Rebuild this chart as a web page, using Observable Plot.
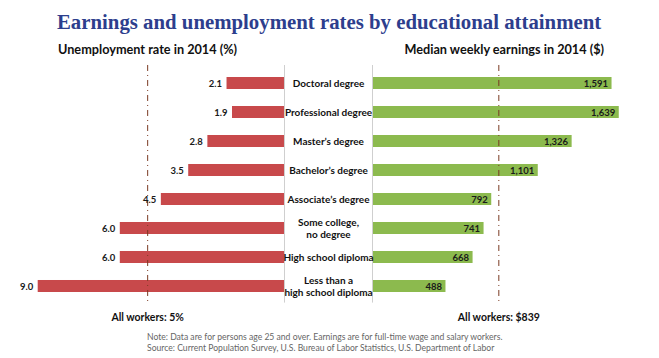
<!DOCTYPE html>
<html><head><meta charset="utf-8">
<script src="https://cdn.jsdelivr.net/npm/d3@7"></script>
<script src="https://cdn.jsdelivr.net/npm/@observablehq/plot@0.6"></script>
<style>
html,body{margin:0;padding:0;background:#fff;}
#wrap{position:relative;width:659px;height:358px;overflow:hidden;background:#fff;}
.t{position:absolute;white-space:nowrap;}
#title{left:57px;top:12.2px;font:bold 20.8px/20.8px "Liberation Serif",serif;color:#2d3e8d;}
.sub{font:bold 12.7px/12.7px Lato,sans-serif;color:#111;top:43px;}
#note{left:147px;top:332.2px;font:8.6px/10.7px Lato,sans-serif;color:#666;}
svg.p{position:absolute;top:60px;}
</style></head><body>
<div id="wrap">
<div class="t" id="title">Earnings and unemployment rates by educational attainment</div>
<div class="t sub" style="left:58px">Unemployment rate in 2014 (%)</div>
<div class="t sub" style="right:55px">Median weekly earnings in 2014 ($)</div>
<div class="t" id="note">Note: Data are for persons age 25 and over. Earnings are for full-time wage and salary workers.<br>Source: Current Population Survey, U.S. Bureau of Labor Statistics, U.S. Department of Labor</div>
</div>
<script>
const categories = ["Doctoral degree","Professional degree","Master’s degree","Bachelor’s degree","Associate’s degree","Some college,\nno degree","High school diploma","Less than a\nhigh school diploma"];
const unemployment = [2.1,1.9,2.8,3.5,4.5,6.0,6.0,9.0];
const earnings = [1591,1639,1326,1101,792,741,668,488];
const allWorkersUnemp = 5;
const allWorkersEarn = 839;

const rows = categories.map((c,i)=>({cat:c, unemp:unemployment[i], earn:earnings[i]}));
const red = "#c8494b", green = "#8cba4e", dash = "#7a3a22";
const common = {height: 267.6, marginTop: 5, marginBottom: 25,
  style: {background:"transparent", fontFamily:"Lato, sans-serif", overflow:"visible"}};

const left = Plot.plot({
  ...common, width: 330, marginLeft: 37.7, marginRight: 46,
  x: {domain:[0,9], reverse:true, axis:null},
  y: {domain: categories, paddingInner:0.6, paddingOuter:0.3, axis:null},
  marks: [
    Plot.barX(rows, {x:"unemp", y:"cat", fill:red}),
    Plot.ruleX([0], {stroke:"#cfcfcf"}),
    Plot.ruleX([allWorkersUnemp], {stroke:dash, strokeDasharray:"6,4,1,4"}),
    Plot.text(rows, {x:"unemp", y:"cat", text:d=>d.unemp.toFixed(1), textAnchor:"end", dx:-5, fontWeight:"bold", fontSize:9.5, fill:"#1a1a1a"}),
    Plot.text([{v:allWorkersUnemp, label:`All workers: ${allWorkersUnemp}%`}], {x:"v", text:"label", frameAnchor:"bottom", dy:14.5, lineAnchor:"middle", fontWeight:"bold", fontSize:10.5, fill:"#111"})
  ]
});
left.classList.add("p"); left.style.left = "0px";

const right = Plot.plot({
  ...common, width: 375, marginLeft: 88, marginRight: 16,
  x: {domain:[0,1800], axis:null},
  y: {domain: categories, paddingInner:0.6, paddingOuter:0.3, label:null},
  marks: [
    Plot.barX(rows, {x:"earn", y:"cat", fill:green}),
    Plot.ruleX([0], {stroke:"#cfcfcf"}),
    Plot.ruleX([allWorkersEarn], {stroke:dash, strokeDasharray:"6,4,1,4"}),
    Plot.text(rows, {x:"earn", y:"cat", text:d=>d3.format(",")(d.earn), textAnchor:"end", dx:-4, fontWeight:"bold", fontSize:9.5, fill:"#1a1a1a"}),
    Plot.axisY({anchor:"left", label:null, tickSize:0, tickPadding:44, textAnchor:"middle", fontWeight:"bold", fontSize:10, lineHeight:1.12, fill:"#111"}),
    Plot.text([{v:allWorkersEarn, label:`All workers: $${allWorkersEarn}`}], {x:"v", text:"label", frameAnchor:"bottom", dy:14.5, lineAnchor:"middle", fontWeight:"bold", fontSize:10.5, fill:"#111"})
  ]
});
right.classList.add("p"); right.style.left = "284px";

const wrap = document.getElementById("wrap");
wrap.appendChild(left);
wrap.appendChild(right);
</script>
</body></html>
